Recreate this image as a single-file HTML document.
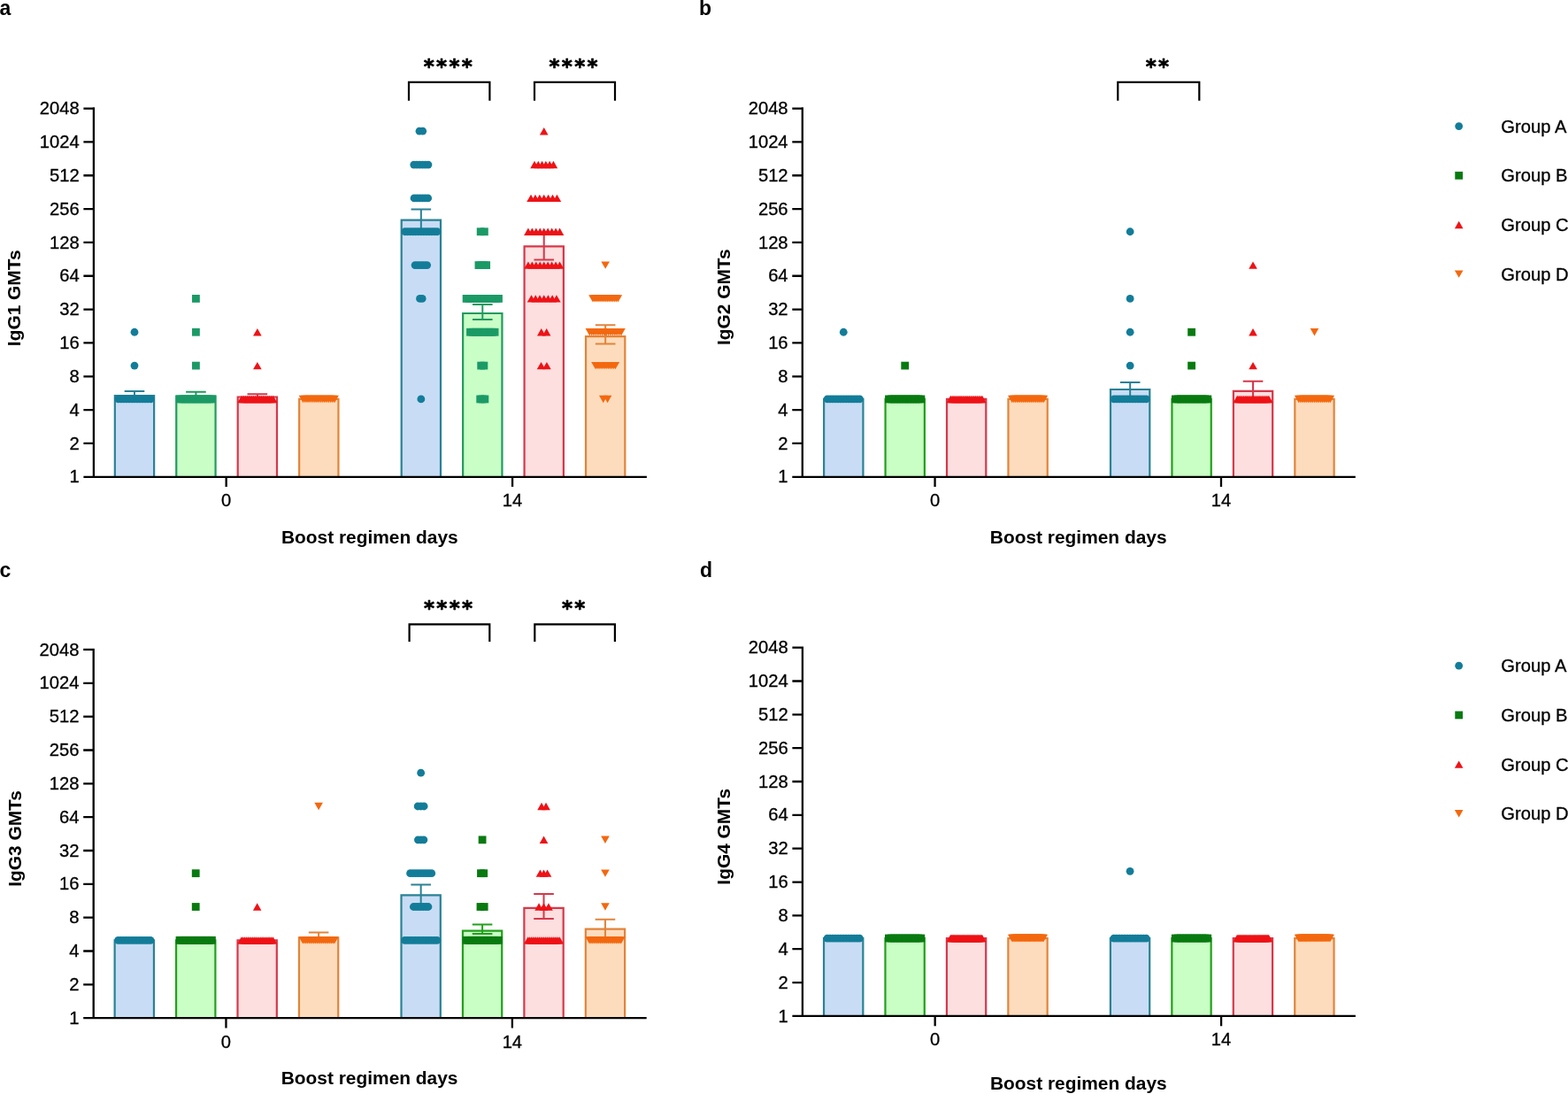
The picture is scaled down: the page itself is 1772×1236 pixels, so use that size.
<!DOCTYPE html>
<html><head><meta charset="utf-8"><title>IgG subclass GMTs</title>
<style>
html,body{margin:0;padding:0;background:#fff;width:1772px;height:1236px;overflow:hidden}
svg{display:block}
.t{font-family:"Liberation Sans", Arial, sans-serif;font-size:20.2px;fill:#000;stroke:#000;stroke-width:0.3px}
.tb{font-family:"Liberation Sans", Arial, sans-serif;font-size:20.9px;font-weight:bold;fill:#000}
.pl{font-family:"Liberation Sans", Arial, sans-serif;font-size:23px;font-weight:bold;fill:#000}
.st{font-family:"DejaVu Sans",sans-serif;font-size:23px;font-weight:bold;fill:#000;stroke:#000;stroke-width:0.7px;stroke-linejoin:round;letter-spacing:2.3px}
</style></head><body>
<svg width="1772" height="1236" viewBox="0 0 1772 1236">
<rect width="1772" height="1236" fill="#fff"/>
<path d="M129.83 538.80V447.00H174.13V538.80" fill="#c8ddf5" stroke="#2a8294" stroke-width="2.2"/>
<path d="M199.27 538.80V447.50H243.57V538.80" fill="#c9fec7" stroke="#229a5e" stroke-width="2.2"/>
<path d="M268.71 538.80V448.50H313.01V538.80" fill="#fddfe0" stroke="#d6384a" stroke-width="2.2"/>
<path d="M338.15 538.80V450.94H382.45V538.80" fill="#fddcbd" stroke="#e2843a" stroke-width="2.2"/>
<path d="M453.70 538.80V248.70H498.00V538.80" fill="#c8ddf5" stroke="#2a8294" stroke-width="2.2"/>
<path d="M523.14 538.80V354.00H567.44V538.80" fill="#c9fec7" stroke="#229a5e" stroke-width="2.2"/>
<path d="M592.58 538.80V278.40H636.88V538.80" fill="#fddfe0" stroke="#d6384a" stroke-width="2.2"/>
<path d="M662.02 538.80V380.20H706.32V538.80" fill="#fddcbd" stroke="#e2843a" stroke-width="2.2"/>
<path d="M151.98 441.90V452.00M140.68 441.90H163.28M140.68 452.00H163.28" fill="none" stroke="#2a8294" stroke-width="2"/>
<path d="M221.42 442.70V452.30M210.12 442.70H232.72M210.12 452.30H232.72" fill="none" stroke="#229a5e" stroke-width="2"/>
<path d="M290.86 445.20V451.80M279.56 445.20H302.16M279.56 451.80H302.16" fill="none" stroke="#d6384a" stroke-width="2"/>
<path d="M475.85 236.60V260.80M464.55 236.60H487.15M464.55 260.80H487.15" fill="none" stroke="#2a8294" stroke-width="2"/>
<path d="M545.29 344.00V361.00M533.99 344.00H556.59M533.99 361.00H556.59" fill="none" stroke="#229a5e" stroke-width="2"/>
<path d="M614.73 262.50V293.40M603.43 262.50H626.03M603.43 293.40H626.03" fill="none" stroke="#d6384a" stroke-width="2"/>
<path d="M684.17 367.30V388.60M672.87 367.30H695.47M672.87 388.60H695.47" fill="none" stroke="#e2843a" stroke-width="2"/>
<circle cx="151.98" cy="375.26" r="4.4" fill="#137d99"/>
<circle cx="151.98" cy="413.10" r="4.4" fill="#137d99"/>
<circle cx="133.78" cy="450.94" r="4.4" fill="#137d99"/>
<circle cx="136.81" cy="450.94" r="4.4" fill="#137d99"/>
<circle cx="139.85" cy="450.94" r="4.4" fill="#137d99"/>
<circle cx="142.88" cy="450.94" r="4.4" fill="#137d99"/>
<circle cx="145.91" cy="450.94" r="4.4" fill="#137d99"/>
<circle cx="148.95" cy="450.94" r="4.4" fill="#137d99"/>
<circle cx="151.98" cy="450.94" r="4.4" fill="#137d99"/>
<circle cx="155.01" cy="450.94" r="4.4" fill="#137d99"/>
<circle cx="158.05" cy="450.94" r="4.4" fill="#137d99"/>
<circle cx="161.08" cy="450.94" r="4.4" fill="#137d99"/>
<circle cx="164.11" cy="450.94" r="4.4" fill="#137d99"/>
<circle cx="167.15" cy="450.94" r="4.4" fill="#137d99"/>
<circle cx="170.18" cy="450.94" r="4.4" fill="#137d99"/>
<rect x="217.02" y="333.02" width="8.80" height="8.80" fill="#1b9a66"/>
<rect x="217.02" y="370.86" width="8.80" height="8.80" fill="#1b9a66"/>
<rect x="217.02" y="408.70" width="8.80" height="8.80" fill="#1b9a66"/>
<rect x="198.82" y="446.54" width="8.80" height="8.80" fill="#1b9a66"/>
<rect x="201.85" y="446.54" width="8.80" height="8.80" fill="#1b9a66"/>
<rect x="204.89" y="446.54" width="8.80" height="8.80" fill="#1b9a66"/>
<rect x="207.92" y="446.54" width="8.80" height="8.80" fill="#1b9a66"/>
<rect x="210.95" y="446.54" width="8.80" height="8.80" fill="#1b9a66"/>
<rect x="213.99" y="446.54" width="8.80" height="8.80" fill="#1b9a66"/>
<rect x="217.02" y="446.54" width="8.80" height="8.80" fill="#1b9a66"/>
<rect x="220.05" y="446.54" width="8.80" height="8.80" fill="#1b9a66"/>
<rect x="223.09" y="446.54" width="8.80" height="8.80" fill="#1b9a66"/>
<rect x="226.12" y="446.54" width="8.80" height="8.80" fill="#1b9a66"/>
<rect x="229.15" y="446.54" width="8.80" height="8.80" fill="#1b9a66"/>
<rect x="232.19" y="446.54" width="8.80" height="8.80" fill="#1b9a66"/>
<rect x="235.22" y="446.54" width="8.80" height="8.80" fill="#1b9a66"/>
<path d="M290.86 371.06L295.66 379.46L286.06 379.46Z" fill="#ee1216"/>
<path d="M290.86 408.90L295.66 417.30L286.06 417.30Z" fill="#ee1216"/>
<path d="M273.06 446.74L277.86 455.14L268.26 455.14Z" fill="#ee1216"/>
<path d="M275.29 446.74L280.09 455.14L270.49 455.14Z" fill="#ee1216"/>
<path d="M277.51 446.74L282.31 455.14L272.71 455.14Z" fill="#ee1216"/>
<path d="M279.74 446.74L284.54 455.14L274.94 455.14Z" fill="#ee1216"/>
<path d="M281.96 446.74L286.76 455.14L277.16 455.14Z" fill="#ee1216"/>
<path d="M284.19 446.74L288.99 455.14L279.38 455.14Z" fill="#ee1216"/>
<path d="M286.41 446.74L291.21 455.14L281.61 455.14Z" fill="#ee1216"/>
<path d="M288.63 446.74L293.44 455.14L283.83 455.14Z" fill="#ee1216"/>
<path d="M290.86 446.74L295.66 455.14L286.06 455.14Z" fill="#ee1216"/>
<path d="M293.08 446.74L297.88 455.14L288.28 455.14Z" fill="#ee1216"/>
<path d="M295.31 446.74L300.11 455.14L290.51 455.14Z" fill="#ee1216"/>
<path d="M297.54 446.74L302.34 455.14L292.74 455.14Z" fill="#ee1216"/>
<path d="M299.76 446.74L304.56 455.14L294.96 455.14Z" fill="#ee1216"/>
<path d="M301.99 446.74L306.79 455.14L297.19 455.14Z" fill="#ee1216"/>
<path d="M304.21 446.74L309.01 455.14L299.41 455.14Z" fill="#ee1216"/>
<path d="M306.44 446.74L311.24 455.14L301.63 455.14Z" fill="#ee1216"/>
<path d="M308.66 446.74L313.46 455.14L303.86 455.14Z" fill="#ee1216"/>
<path d="M337.70 446.74L347.30 446.74L342.50 455.14Z" fill="#f3680f"/>
<path d="M339.92 446.74L349.52 446.74L344.72 455.14Z" fill="#f3680f"/>
<path d="M342.15 446.74L351.75 446.74L346.95 455.14Z" fill="#f3680f"/>
<path d="M344.37 446.74L353.97 446.74L349.17 455.14Z" fill="#f3680f"/>
<path d="M346.60 446.74L356.20 446.74L351.40 455.14Z" fill="#f3680f"/>
<path d="M348.82 446.74L358.42 446.74L353.62 455.14Z" fill="#f3680f"/>
<path d="M351.05 446.74L360.65 446.74L355.85 455.14Z" fill="#f3680f"/>
<path d="M353.27 446.74L362.87 446.74L358.07 455.14Z" fill="#f3680f"/>
<path d="M355.50 446.74L365.10 446.74L360.30 455.14Z" fill="#f3680f"/>
<path d="M357.72 446.74L367.32 446.74L362.52 455.14Z" fill="#f3680f"/>
<path d="M359.95 446.74L369.55 446.74L364.75 455.14Z" fill="#f3680f"/>
<path d="M362.17 446.74L371.77 446.74L366.97 455.14Z" fill="#f3680f"/>
<path d="M364.40 446.74L374.00 446.74L369.20 455.14Z" fill="#f3680f"/>
<path d="M366.62 446.74L376.22 446.74L371.42 455.14Z" fill="#f3680f"/>
<path d="M368.85 446.74L378.45 446.74L373.65 455.14Z" fill="#f3680f"/>
<path d="M371.07 446.74L380.67 446.74L375.87 455.14Z" fill="#f3680f"/>
<path d="M373.30 446.74L382.90 446.74L378.10 455.14Z" fill="#f3680f"/>
<circle cx="474.00" cy="148.22" r="4.4" fill="#137d99"/>
<circle cx="477.70" cy="148.22" r="4.4" fill="#137d99"/>
<circle cx="467.75" cy="186.06" r="4.4" fill="#137d99"/>
<circle cx="470.99" cy="186.06" r="4.4" fill="#137d99"/>
<circle cx="474.23" cy="186.06" r="4.4" fill="#137d99"/>
<circle cx="477.47" cy="186.06" r="4.4" fill="#137d99"/>
<circle cx="480.71" cy="186.06" r="4.4" fill="#137d99"/>
<circle cx="483.95" cy="186.06" r="4.4" fill="#137d99"/>
<circle cx="468.05" cy="223.90" r="4.4" fill="#137d99"/>
<circle cx="471.17" cy="223.90" r="4.4" fill="#137d99"/>
<circle cx="474.29" cy="223.90" r="4.4" fill="#137d99"/>
<circle cx="477.41" cy="223.90" r="4.4" fill="#137d99"/>
<circle cx="480.53" cy="223.90" r="4.4" fill="#137d99"/>
<circle cx="483.65" cy="223.90" r="4.4" fill="#137d99"/>
<circle cx="457.65" cy="261.74" r="4.4" fill="#137d99"/>
<circle cx="460.68" cy="261.74" r="4.4" fill="#137d99"/>
<circle cx="463.72" cy="261.74" r="4.4" fill="#137d99"/>
<circle cx="466.75" cy="261.74" r="4.4" fill="#137d99"/>
<circle cx="469.78" cy="261.74" r="4.4" fill="#137d99"/>
<circle cx="472.82" cy="261.74" r="4.4" fill="#137d99"/>
<circle cx="475.85" cy="261.74" r="4.4" fill="#137d99"/>
<circle cx="478.88" cy="261.74" r="4.4" fill="#137d99"/>
<circle cx="481.92" cy="261.74" r="4.4" fill="#137d99"/>
<circle cx="484.95" cy="261.74" r="4.4" fill="#137d99"/>
<circle cx="487.98" cy="261.74" r="4.4" fill="#137d99"/>
<circle cx="491.02" cy="261.74" r="4.4" fill="#137d99"/>
<circle cx="494.05" cy="261.74" r="4.4" fill="#137d99"/>
<circle cx="469.05" cy="299.58" r="4.4" fill="#137d99"/>
<circle cx="471.77" cy="299.58" r="4.4" fill="#137d99"/>
<circle cx="474.49" cy="299.58" r="4.4" fill="#137d99"/>
<circle cx="477.21" cy="299.58" r="4.4" fill="#137d99"/>
<circle cx="479.93" cy="299.58" r="4.4" fill="#137d99"/>
<circle cx="482.65" cy="299.58" r="4.4" fill="#137d99"/>
<circle cx="474.50" cy="337.42" r="4.4" fill="#137d99"/>
<circle cx="477.20" cy="337.42" r="4.4" fill="#137d99"/>
<circle cx="475.85" cy="450.94" r="4.4" fill="#137d99"/>
<rect x="538.79" y="257.34" width="8.80" height="8.80" fill="#1b9a66"/>
<rect x="542.99" y="257.34" width="8.80" height="8.80" fill="#1b9a66"/>
<rect x="536.54" y="295.18" width="8.80" height="8.80" fill="#1b9a66"/>
<rect x="539.44" y="295.18" width="8.80" height="8.80" fill="#1b9a66"/>
<rect x="542.34" y="295.18" width="8.80" height="8.80" fill="#1b9a66"/>
<rect x="545.24" y="295.18" width="8.80" height="8.80" fill="#1b9a66"/>
<rect x="522.69" y="333.02" width="8.80" height="8.80" fill="#1b9a66"/>
<rect x="525.72" y="333.02" width="8.80" height="8.80" fill="#1b9a66"/>
<rect x="528.76" y="333.02" width="8.80" height="8.80" fill="#1b9a66"/>
<rect x="531.79" y="333.02" width="8.80" height="8.80" fill="#1b9a66"/>
<rect x="534.82" y="333.02" width="8.80" height="8.80" fill="#1b9a66"/>
<rect x="537.86" y="333.02" width="8.80" height="8.80" fill="#1b9a66"/>
<rect x="540.89" y="333.02" width="8.80" height="8.80" fill="#1b9a66"/>
<rect x="543.92" y="333.02" width="8.80" height="8.80" fill="#1b9a66"/>
<rect x="546.96" y="333.02" width="8.80" height="8.80" fill="#1b9a66"/>
<rect x="549.99" y="333.02" width="8.80" height="8.80" fill="#1b9a66"/>
<rect x="553.02" y="333.02" width="8.80" height="8.80" fill="#1b9a66"/>
<rect x="556.06" y="333.02" width="8.80" height="8.80" fill="#1b9a66"/>
<rect x="559.09" y="333.02" width="8.80" height="8.80" fill="#1b9a66"/>
<rect x="527.09" y="370.86" width="8.80" height="8.80" fill="#1b9a66"/>
<rect x="530.16" y="370.86" width="8.80" height="8.80" fill="#1b9a66"/>
<rect x="533.22" y="370.86" width="8.80" height="8.80" fill="#1b9a66"/>
<rect x="536.29" y="370.86" width="8.80" height="8.80" fill="#1b9a66"/>
<rect x="539.36" y="370.86" width="8.80" height="8.80" fill="#1b9a66"/>
<rect x="542.42" y="370.86" width="8.80" height="8.80" fill="#1b9a66"/>
<rect x="545.49" y="370.86" width="8.80" height="8.80" fill="#1b9a66"/>
<rect x="548.56" y="370.86" width="8.80" height="8.80" fill="#1b9a66"/>
<rect x="551.62" y="370.86" width="8.80" height="8.80" fill="#1b9a66"/>
<rect x="554.69" y="370.86" width="8.80" height="8.80" fill="#1b9a66"/>
<rect x="539.29" y="408.70" width="8.80" height="8.80" fill="#1b9a66"/>
<rect x="542.49" y="408.70" width="8.80" height="8.80" fill="#1b9a66"/>
<rect x="538.29" y="446.54" width="8.80" height="8.80" fill="#1b9a66"/>
<rect x="540.89" y="446.54" width="8.80" height="8.80" fill="#1b9a66"/>
<rect x="543.49" y="446.54" width="8.80" height="8.80" fill="#1b9a66"/>
<path d="M614.73 144.02L619.53 152.42L609.93 152.42Z" fill="#ee1216"/>
<path d="M604.03 181.86L608.83 190.26L599.23 190.26Z" fill="#ee1216"/>
<path d="M608.31 181.86L613.11 190.26L603.51 190.26Z" fill="#ee1216"/>
<path d="M612.59 181.86L617.39 190.26L607.79 190.26Z" fill="#ee1216"/>
<path d="M616.87 181.86L621.67 190.26L612.07 190.26Z" fill="#ee1216"/>
<path d="M621.15 181.86L625.95 190.26L616.35 190.26Z" fill="#ee1216"/>
<path d="M625.43 181.86L630.23 190.26L620.63 190.26Z" fill="#ee1216"/>
<path d="M600.03 219.70L604.83 228.10L595.23 228.10Z" fill="#ee1216"/>
<path d="M604.93 219.70L609.73 228.10L600.13 228.10Z" fill="#ee1216"/>
<path d="M609.83 219.70L614.63 228.10L605.03 228.10Z" fill="#ee1216"/>
<path d="M614.73 219.70L619.53 228.10L609.93 228.10Z" fill="#ee1216"/>
<path d="M619.63 219.70L624.43 228.10L614.83 228.10Z" fill="#ee1216"/>
<path d="M624.53 219.70L629.33 228.10L619.73 228.10Z" fill="#ee1216"/>
<path d="M629.43 219.70L634.23 228.10L624.63 228.10Z" fill="#ee1216"/>
<path d="M596.93 257.54L601.73 265.94L592.13 265.94Z" fill="#ee1216"/>
<path d="M601.38 257.54L606.18 265.94L596.58 265.94Z" fill="#ee1216"/>
<path d="M605.83 257.54L610.63 265.94L601.03 265.94Z" fill="#ee1216"/>
<path d="M610.28 257.54L615.08 265.94L605.48 265.94Z" fill="#ee1216"/>
<path d="M614.73 257.54L619.53 265.94L609.93 265.94Z" fill="#ee1216"/>
<path d="M619.18 257.54L623.98 265.94L614.38 265.94Z" fill="#ee1216"/>
<path d="M623.63 257.54L628.43 265.94L618.83 265.94Z" fill="#ee1216"/>
<path d="M628.08 257.54L632.88 265.94L623.28 265.94Z" fill="#ee1216"/>
<path d="M632.53 257.54L637.33 265.94L627.73 265.94Z" fill="#ee1216"/>
<path d="M596.93 295.38L601.73 303.78L592.13 303.78Z" fill="#ee1216"/>
<path d="M601.38 295.38L606.18 303.78L596.58 303.78Z" fill="#ee1216"/>
<path d="M605.83 295.38L610.63 303.78L601.03 303.78Z" fill="#ee1216"/>
<path d="M610.28 295.38L615.08 303.78L605.48 303.78Z" fill="#ee1216"/>
<path d="M614.73 295.38L619.53 303.78L609.93 303.78Z" fill="#ee1216"/>
<path d="M619.18 295.38L623.98 303.78L614.38 303.78Z" fill="#ee1216"/>
<path d="M623.63 295.38L628.43 303.78L618.83 303.78Z" fill="#ee1216"/>
<path d="M628.08 295.38L632.88 303.78L623.28 303.78Z" fill="#ee1216"/>
<path d="M632.53 295.38L637.33 303.78L627.73 303.78Z" fill="#ee1216"/>
<path d="M600.53 333.22L605.33 341.62L595.73 341.62Z" fill="#ee1216"/>
<path d="M605.26 333.22L610.06 341.62L600.46 341.62Z" fill="#ee1216"/>
<path d="M610.00 333.22L614.80 341.62L605.20 341.62Z" fill="#ee1216"/>
<path d="M614.73 333.22L619.53 341.62L609.93 341.62Z" fill="#ee1216"/>
<path d="M619.46 333.22L624.26 341.62L614.66 341.62Z" fill="#ee1216"/>
<path d="M624.20 333.22L629.00 341.62L619.40 341.62Z" fill="#ee1216"/>
<path d="M628.93 333.22L633.73 341.62L624.13 341.62Z" fill="#ee1216"/>
<path d="M611.78 371.06L616.58 379.46L606.98 379.46Z" fill="#ee1216"/>
<path d="M617.68 371.06L622.48 379.46L612.88 379.46Z" fill="#ee1216"/>
<path d="M611.53 408.90L616.33 417.30L606.73 417.30Z" fill="#ee1216"/>
<path d="M617.93 408.90L622.73 417.30L613.13 417.30Z" fill="#ee1216"/>
<path d="M679.37 295.38L688.97 295.38L684.17 303.78Z" fill="#f3680f"/>
<path d="M665.17 333.22L674.77 333.22L669.97 341.62Z" fill="#f3680f"/>
<path d="M667.20 333.22L676.80 333.22L672.00 341.62Z" fill="#f3680f"/>
<path d="M669.23 333.22L678.83 333.22L674.03 341.62Z" fill="#f3680f"/>
<path d="M671.26 333.22L680.86 333.22L676.06 341.62Z" fill="#f3680f"/>
<path d="M673.28 333.22L682.88 333.22L678.08 341.62Z" fill="#f3680f"/>
<path d="M675.31 333.22L684.91 333.22L680.11 341.62Z" fill="#f3680f"/>
<path d="M677.34 333.22L686.94 333.22L682.14 341.62Z" fill="#f3680f"/>
<path d="M679.37 333.22L688.97 333.22L684.17 341.62Z" fill="#f3680f"/>
<path d="M681.40 333.22L691.00 333.22L686.20 341.62Z" fill="#f3680f"/>
<path d="M683.43 333.22L693.03 333.22L688.23 341.62Z" fill="#f3680f"/>
<path d="M685.46 333.22L695.06 333.22L690.26 341.62Z" fill="#f3680f"/>
<path d="M687.48 333.22L697.08 333.22L692.28 341.62Z" fill="#f3680f"/>
<path d="M689.51 333.22L699.11 333.22L694.31 341.62Z" fill="#f3680f"/>
<path d="M691.54 333.22L701.14 333.22L696.34 341.62Z" fill="#f3680f"/>
<path d="M693.57 333.22L703.17 333.22L698.37 341.62Z" fill="#f3680f"/>
<path d="M661.57 371.06L671.17 371.06L666.37 379.46Z" fill="#f3680f"/>
<path d="M663.94 371.06L673.54 371.06L668.74 379.46Z" fill="#f3680f"/>
<path d="M666.32 371.06L675.92 371.06L671.12 379.46Z" fill="#f3680f"/>
<path d="M668.69 371.06L678.29 371.06L673.49 379.46Z" fill="#f3680f"/>
<path d="M671.06 371.06L680.66 371.06L675.86 379.46Z" fill="#f3680f"/>
<path d="M673.44 371.06L683.04 371.06L678.24 379.46Z" fill="#f3680f"/>
<path d="M675.81 371.06L685.41 371.06L680.61 379.46Z" fill="#f3680f"/>
<path d="M678.18 371.06L687.78 371.06L682.98 379.46Z" fill="#f3680f"/>
<path d="M680.56 371.06L690.16 371.06L685.36 379.46Z" fill="#f3680f"/>
<path d="M682.93 371.06L692.53 371.06L687.73 379.46Z" fill="#f3680f"/>
<path d="M685.30 371.06L694.90 371.06L690.10 379.46Z" fill="#f3680f"/>
<path d="M687.68 371.06L697.28 371.06L692.48 379.46Z" fill="#f3680f"/>
<path d="M690.05 371.06L699.65 371.06L694.85 379.46Z" fill="#f3680f"/>
<path d="M692.42 371.06L702.02 371.06L697.22 379.46Z" fill="#f3680f"/>
<path d="M694.80 371.06L704.40 371.06L699.60 379.46Z" fill="#f3680f"/>
<path d="M697.17 371.06L706.77 371.06L701.97 379.46Z" fill="#f3680f"/>
<path d="M668.17 408.90L677.77 408.90L672.97 417.30Z" fill="#f3680f"/>
<path d="M670.21 408.90L679.81 408.90L675.01 417.30Z" fill="#f3680f"/>
<path d="M672.24 408.90L681.84 408.90L677.04 417.30Z" fill="#f3680f"/>
<path d="M674.28 408.90L683.88 408.90L679.08 417.30Z" fill="#f3680f"/>
<path d="M676.32 408.90L685.92 408.90L681.12 417.30Z" fill="#f3680f"/>
<path d="M678.35 408.90L687.95 408.90L683.15 417.30Z" fill="#f3680f"/>
<path d="M680.39 408.90L689.99 408.90L685.19 417.30Z" fill="#f3680f"/>
<path d="M682.42 408.90L692.02 408.90L687.22 417.30Z" fill="#f3680f"/>
<path d="M684.46 408.90L694.06 408.90L689.26 417.30Z" fill="#f3680f"/>
<path d="M686.50 408.90L696.10 408.90L691.30 417.30Z" fill="#f3680f"/>
<path d="M688.53 408.90L698.13 408.90L693.33 417.30Z" fill="#f3680f"/>
<path d="M690.57 408.90L700.17 408.90L695.37 417.30Z" fill="#f3680f"/>
<path d="M676.97 446.74L686.57 446.74L681.77 455.14Z" fill="#f3680f"/>
<path d="M681.77 446.74L691.37 446.74L686.57 455.14Z" fill="#f3680f"/>
<path d="M105.90 121.36V538.80H730.90M94.40 538.80H105.90M94.40 500.96H105.90M94.40 463.12H105.90M94.40 425.28H105.90M94.40 387.44H105.90M94.40 349.60H105.90M94.40 311.76H105.90M94.40 273.92H105.90M94.40 236.08H105.90M94.40 198.24H105.90M94.40 160.40H105.90M94.40 122.56H105.90M255.66 538.80V550.10M579.08 538.80V550.10" fill="none" stroke="#000" stroke-width="2.3"/>
<text x="89.70" y="545.40" text-anchor="end" class="t">1</text>
<text x="89.70" y="507.56" text-anchor="end" class="t">2</text>
<text x="89.70" y="469.72" text-anchor="end" class="t">4</text>
<text x="89.70" y="431.88" text-anchor="end" class="t">8</text>
<text x="89.70" y="394.04" text-anchor="end" class="t">16</text>
<text x="89.70" y="356.20" text-anchor="end" class="t">32</text>
<text x="89.70" y="318.36" text-anchor="end" class="t">64</text>
<text x="89.70" y="280.52" text-anchor="end" class="t">128</text>
<text x="89.70" y="242.68" text-anchor="end" class="t">256</text>
<text x="89.70" y="204.84" text-anchor="end" class="t">512</text>
<text x="89.70" y="167.00" text-anchor="end" class="t">1024</text>
<text x="89.70" y="129.16" text-anchor="end" class="t">2048</text>
<text x="255.66" y="572.20" text-anchor="middle" class="t">0</text>
<text x="579.08" y="572.20" text-anchor="middle" class="t">14</text>
<text x="417.80" y="613.70" text-anchor="middle" class="tb">Boost regimen days</text>
<text transform="translate(23.30 336.80) rotate(-90)" x="0" y="0" text-anchor="middle" class="tb">IgG1 GMTs</text>
<text x="-0.5" y="17.0" class="pl">a</text>
<path d="M462.00 113.70V92.90H553.40V113.70" fill="none" stroke="#000" stroke-width="2.2"/>
<text x="507.40" y="83.30" text-anchor="middle" class="st">****</text>
<path d="M604.00 113.70V92.90H695.00V113.70" fill="none" stroke="#000" stroke-width="2.2"/>
<text x="649.20" y="83.30" text-anchor="middle" class="st">****</text>
<path d="M931.13 538.80V450.94H975.43V538.80" fill="#c8ddf5" stroke="#2a8294" stroke-width="2.2"/>
<path d="M1000.57 538.80V450.94H1044.87V538.80" fill="#c9fec5" stroke="#22a01c" stroke-width="2.2"/>
<path d="M1070.01 538.80V450.94H1114.31V538.80" fill="#fddfe0" stroke="#d6384a" stroke-width="2.2"/>
<path d="M1139.45 538.80V450.94H1183.75V538.80" fill="#fddcbd" stroke="#e2843a" stroke-width="2.2"/>
<path d="M1255.00 538.80V440.00H1299.30V538.80" fill="#c8ddf5" stroke="#2a8294" stroke-width="2.2"/>
<path d="M1324.44 538.80V450.94H1368.74V538.80" fill="#c9fec5" stroke="#22a01c" stroke-width="2.2"/>
<path d="M1393.88 538.80V441.80H1438.18V538.80" fill="#fddfe0" stroke="#d6384a" stroke-width="2.2"/>
<path d="M1463.32 538.80V450.94H1507.62V538.80" fill="#fddcbd" stroke="#e2843a" stroke-width="2.2"/>
<path d="M1277.15 431.90V448.00M1265.85 431.90H1288.45M1265.85 448.00H1288.45" fill="none" stroke="#2a8294" stroke-width="2"/>
<path d="M1416.03 430.70V452.00M1404.73 430.70H1427.33M1404.73 452.00H1427.33" fill="none" stroke="#d6384a" stroke-width="2"/>
<circle cx="953.28" cy="375.26" r="4.4" fill="#137d99"/>
<circle cx="935.08" cy="450.94" r="4.4" fill="#137d99"/>
<circle cx="938.11" cy="450.94" r="4.4" fill="#137d99"/>
<circle cx="941.15" cy="450.94" r="4.4" fill="#137d99"/>
<circle cx="944.18" cy="450.94" r="4.4" fill="#137d99"/>
<circle cx="947.21" cy="450.94" r="4.4" fill="#137d99"/>
<circle cx="950.25" cy="450.94" r="4.4" fill="#137d99"/>
<circle cx="953.28" cy="450.94" r="4.4" fill="#137d99"/>
<circle cx="956.31" cy="450.94" r="4.4" fill="#137d99"/>
<circle cx="959.35" cy="450.94" r="4.4" fill="#137d99"/>
<circle cx="962.38" cy="450.94" r="4.4" fill="#137d99"/>
<circle cx="965.41" cy="450.94" r="4.4" fill="#137d99"/>
<circle cx="968.45" cy="450.94" r="4.4" fill="#137d99"/>
<circle cx="971.48" cy="450.94" r="4.4" fill="#137d99"/>
<rect x="1018.32" y="408.70" width="8.80" height="8.80" fill="#087a10"/>
<rect x="1000.12" y="446.54" width="8.80" height="8.80" fill="#087a10"/>
<rect x="1003.15" y="446.54" width="8.80" height="8.80" fill="#087a10"/>
<rect x="1006.19" y="446.54" width="8.80" height="8.80" fill="#087a10"/>
<rect x="1009.22" y="446.54" width="8.80" height="8.80" fill="#087a10"/>
<rect x="1012.25" y="446.54" width="8.80" height="8.80" fill="#087a10"/>
<rect x="1015.29" y="446.54" width="8.80" height="8.80" fill="#087a10"/>
<rect x="1018.32" y="446.54" width="8.80" height="8.80" fill="#087a10"/>
<rect x="1021.35" y="446.54" width="8.80" height="8.80" fill="#087a10"/>
<rect x="1024.39" y="446.54" width="8.80" height="8.80" fill="#087a10"/>
<rect x="1027.42" y="446.54" width="8.80" height="8.80" fill="#087a10"/>
<rect x="1030.45" y="446.54" width="8.80" height="8.80" fill="#087a10"/>
<rect x="1033.49" y="446.54" width="8.80" height="8.80" fill="#087a10"/>
<rect x="1036.52" y="446.54" width="8.80" height="8.80" fill="#087a10"/>
<path d="M1074.36 446.74L1079.16 455.14L1069.56 455.14Z" fill="#ee1216"/>
<path d="M1076.14 446.74L1080.94 455.14L1071.34 455.14Z" fill="#ee1216"/>
<path d="M1077.92 446.74L1082.72 455.14L1073.12 455.14Z" fill="#ee1216"/>
<path d="M1079.70 446.74L1084.50 455.14L1074.90 455.14Z" fill="#ee1216"/>
<path d="M1081.48 446.74L1086.28 455.14L1076.68 455.14Z" fill="#ee1216"/>
<path d="M1083.26 446.74L1088.06 455.14L1078.46 455.14Z" fill="#ee1216"/>
<path d="M1085.04 446.74L1089.84 455.14L1080.24 455.14Z" fill="#ee1216"/>
<path d="M1086.82 446.74L1091.62 455.14L1082.02 455.14Z" fill="#ee1216"/>
<path d="M1088.60 446.74L1093.40 455.14L1083.80 455.14Z" fill="#ee1216"/>
<path d="M1090.38 446.74L1095.18 455.14L1085.58 455.14Z" fill="#ee1216"/>
<path d="M1092.16 446.74L1096.96 455.14L1087.36 455.14Z" fill="#ee1216"/>
<path d="M1093.94 446.74L1098.74 455.14L1089.14 455.14Z" fill="#ee1216"/>
<path d="M1095.72 446.74L1100.52 455.14L1090.92 455.14Z" fill="#ee1216"/>
<path d="M1097.50 446.74L1102.30 455.14L1092.70 455.14Z" fill="#ee1216"/>
<path d="M1099.28 446.74L1104.08 455.14L1094.48 455.14Z" fill="#ee1216"/>
<path d="M1101.06 446.74L1105.86 455.14L1096.26 455.14Z" fill="#ee1216"/>
<path d="M1102.84 446.74L1107.64 455.14L1098.04 455.14Z" fill="#ee1216"/>
<path d="M1104.62 446.74L1109.42 455.14L1099.82 455.14Z" fill="#ee1216"/>
<path d="M1106.40 446.74L1111.20 455.14L1101.60 455.14Z" fill="#ee1216"/>
<path d="M1108.18 446.74L1112.98 455.14L1103.38 455.14Z" fill="#ee1216"/>
<path d="M1109.96 446.74L1114.76 455.14L1105.16 455.14Z" fill="#ee1216"/>
<path d="M1139.00 446.74L1148.60 446.74L1143.80 455.14Z" fill="#f3680f"/>
<path d="M1140.78 446.74L1150.38 446.74L1145.58 455.14Z" fill="#f3680f"/>
<path d="M1142.56 446.74L1152.16 446.74L1147.36 455.14Z" fill="#f3680f"/>
<path d="M1144.34 446.74L1153.94 446.74L1149.14 455.14Z" fill="#f3680f"/>
<path d="M1146.12 446.74L1155.72 446.74L1150.92 455.14Z" fill="#f3680f"/>
<path d="M1147.90 446.74L1157.50 446.74L1152.70 455.14Z" fill="#f3680f"/>
<path d="M1149.68 446.74L1159.28 446.74L1154.48 455.14Z" fill="#f3680f"/>
<path d="M1151.46 446.74L1161.06 446.74L1156.26 455.14Z" fill="#f3680f"/>
<path d="M1153.24 446.74L1162.84 446.74L1158.04 455.14Z" fill="#f3680f"/>
<path d="M1155.02 446.74L1164.62 446.74L1159.82 455.14Z" fill="#f3680f"/>
<path d="M1156.80 446.74L1166.40 446.74L1161.60 455.14Z" fill="#f3680f"/>
<path d="M1158.58 446.74L1168.18 446.74L1163.38 455.14Z" fill="#f3680f"/>
<path d="M1160.36 446.74L1169.96 446.74L1165.16 455.14Z" fill="#f3680f"/>
<path d="M1162.14 446.74L1171.74 446.74L1166.94 455.14Z" fill="#f3680f"/>
<path d="M1163.92 446.74L1173.52 446.74L1168.72 455.14Z" fill="#f3680f"/>
<path d="M1165.70 446.74L1175.30 446.74L1170.50 455.14Z" fill="#f3680f"/>
<path d="M1167.48 446.74L1177.08 446.74L1172.28 455.14Z" fill="#f3680f"/>
<path d="M1169.26 446.74L1178.86 446.74L1174.06 455.14Z" fill="#f3680f"/>
<path d="M1171.04 446.74L1180.64 446.74L1175.84 455.14Z" fill="#f3680f"/>
<path d="M1172.82 446.74L1182.42 446.74L1177.62 455.14Z" fill="#f3680f"/>
<path d="M1174.60 446.74L1184.20 446.74L1179.40 455.14Z" fill="#f3680f"/>
<circle cx="1277.15" cy="261.74" r="4.4" fill="#137d99"/>
<circle cx="1277.15" cy="337.42" r="4.4" fill="#137d99"/>
<circle cx="1277.15" cy="375.26" r="4.4" fill="#137d99"/>
<circle cx="1277.15" cy="413.10" r="4.4" fill="#137d99"/>
<circle cx="1258.95" cy="450.94" r="4.4" fill="#137d99"/>
<circle cx="1261.98" cy="450.94" r="4.4" fill="#137d99"/>
<circle cx="1265.02" cy="450.94" r="4.4" fill="#137d99"/>
<circle cx="1268.05" cy="450.94" r="4.4" fill="#137d99"/>
<circle cx="1271.08" cy="450.94" r="4.4" fill="#137d99"/>
<circle cx="1274.12" cy="450.94" r="4.4" fill="#137d99"/>
<circle cx="1277.15" cy="450.94" r="4.4" fill="#137d99"/>
<circle cx="1280.18" cy="450.94" r="4.4" fill="#137d99"/>
<circle cx="1283.22" cy="450.94" r="4.4" fill="#137d99"/>
<circle cx="1286.25" cy="450.94" r="4.4" fill="#137d99"/>
<circle cx="1289.28" cy="450.94" r="4.4" fill="#137d99"/>
<circle cx="1292.32" cy="450.94" r="4.4" fill="#137d99"/>
<circle cx="1295.35" cy="450.94" r="4.4" fill="#137d99"/>
<rect x="1342.19" y="370.86" width="8.80" height="8.80" fill="#087a10"/>
<rect x="1342.19" y="408.70" width="8.80" height="8.80" fill="#087a10"/>
<rect x="1323.99" y="446.54" width="8.80" height="8.80" fill="#087a10"/>
<rect x="1327.02" y="446.54" width="8.80" height="8.80" fill="#087a10"/>
<rect x="1330.06" y="446.54" width="8.80" height="8.80" fill="#087a10"/>
<rect x="1333.09" y="446.54" width="8.80" height="8.80" fill="#087a10"/>
<rect x="1336.12" y="446.54" width="8.80" height="8.80" fill="#087a10"/>
<rect x="1339.16" y="446.54" width="8.80" height="8.80" fill="#087a10"/>
<rect x="1342.19" y="446.54" width="8.80" height="8.80" fill="#087a10"/>
<rect x="1345.22" y="446.54" width="8.80" height="8.80" fill="#087a10"/>
<rect x="1348.26" y="446.54" width="8.80" height="8.80" fill="#087a10"/>
<rect x="1351.29" y="446.54" width="8.80" height="8.80" fill="#087a10"/>
<rect x="1354.32" y="446.54" width="8.80" height="8.80" fill="#087a10"/>
<rect x="1357.36" y="446.54" width="8.80" height="8.80" fill="#087a10"/>
<rect x="1360.39" y="446.54" width="8.80" height="8.80" fill="#087a10"/>
<path d="M1416.03 295.38L1420.83 303.78L1411.23 303.78Z" fill="#ee1216"/>
<path d="M1416.03 371.06L1420.83 379.46L1411.23 379.46Z" fill="#ee1216"/>
<path d="M1416.03 408.90L1420.83 417.30L1411.23 417.30Z" fill="#ee1216"/>
<path d="M1398.23 446.74L1403.03 455.14L1393.43 455.14Z" fill="#ee1216"/>
<path d="M1400.01 446.74L1404.81 455.14L1395.21 455.14Z" fill="#ee1216"/>
<path d="M1401.79 446.74L1406.59 455.14L1396.99 455.14Z" fill="#ee1216"/>
<path d="M1403.57 446.74L1408.37 455.14L1398.77 455.14Z" fill="#ee1216"/>
<path d="M1405.35 446.74L1410.15 455.14L1400.55 455.14Z" fill="#ee1216"/>
<path d="M1407.13 446.74L1411.93 455.14L1402.33 455.14Z" fill="#ee1216"/>
<path d="M1408.91 446.74L1413.71 455.14L1404.11 455.14Z" fill="#ee1216"/>
<path d="M1410.69 446.74L1415.49 455.14L1405.89 455.14Z" fill="#ee1216"/>
<path d="M1412.47 446.74L1417.27 455.14L1407.67 455.14Z" fill="#ee1216"/>
<path d="M1414.25 446.74L1419.05 455.14L1409.45 455.14Z" fill="#ee1216"/>
<path d="M1416.03 446.74L1420.83 455.14L1411.23 455.14Z" fill="#ee1216"/>
<path d="M1417.81 446.74L1422.61 455.14L1413.01 455.14Z" fill="#ee1216"/>
<path d="M1419.59 446.74L1424.39 455.14L1414.79 455.14Z" fill="#ee1216"/>
<path d="M1421.37 446.74L1426.17 455.14L1416.57 455.14Z" fill="#ee1216"/>
<path d="M1423.15 446.74L1427.95 455.14L1418.35 455.14Z" fill="#ee1216"/>
<path d="M1424.93 446.74L1429.73 455.14L1420.13 455.14Z" fill="#ee1216"/>
<path d="M1426.71 446.74L1431.51 455.14L1421.91 455.14Z" fill="#ee1216"/>
<path d="M1428.49 446.74L1433.29 455.14L1423.69 455.14Z" fill="#ee1216"/>
<path d="M1430.27 446.74L1435.07 455.14L1425.47 455.14Z" fill="#ee1216"/>
<path d="M1432.05 446.74L1436.85 455.14L1427.25 455.14Z" fill="#ee1216"/>
<path d="M1433.83 446.74L1438.63 455.14L1429.03 455.14Z" fill="#ee1216"/>
<path d="M1480.67 371.06L1490.27 371.06L1485.47 379.46Z" fill="#f3680f"/>
<path d="M1462.87 446.74L1472.47 446.74L1467.67 455.14Z" fill="#f3680f"/>
<path d="M1464.65 446.74L1474.25 446.74L1469.45 455.14Z" fill="#f3680f"/>
<path d="M1466.43 446.74L1476.03 446.74L1471.23 455.14Z" fill="#f3680f"/>
<path d="M1468.21 446.74L1477.81 446.74L1473.01 455.14Z" fill="#f3680f"/>
<path d="M1469.99 446.74L1479.59 446.74L1474.79 455.14Z" fill="#f3680f"/>
<path d="M1471.77 446.74L1481.37 446.74L1476.57 455.14Z" fill="#f3680f"/>
<path d="M1473.55 446.74L1483.15 446.74L1478.35 455.14Z" fill="#f3680f"/>
<path d="M1475.33 446.74L1484.93 446.74L1480.13 455.14Z" fill="#f3680f"/>
<path d="M1477.11 446.74L1486.71 446.74L1481.91 455.14Z" fill="#f3680f"/>
<path d="M1478.89 446.74L1488.49 446.74L1483.69 455.14Z" fill="#f3680f"/>
<path d="M1480.67 446.74L1490.27 446.74L1485.47 455.14Z" fill="#f3680f"/>
<path d="M1482.45 446.74L1492.05 446.74L1487.25 455.14Z" fill="#f3680f"/>
<path d="M1484.23 446.74L1493.83 446.74L1489.03 455.14Z" fill="#f3680f"/>
<path d="M1486.01 446.74L1495.61 446.74L1490.81 455.14Z" fill="#f3680f"/>
<path d="M1487.79 446.74L1497.39 446.74L1492.59 455.14Z" fill="#f3680f"/>
<path d="M1489.57 446.74L1499.17 446.74L1494.37 455.14Z" fill="#f3680f"/>
<path d="M1491.35 446.74L1500.95 446.74L1496.15 455.14Z" fill="#f3680f"/>
<path d="M1493.13 446.74L1502.73 446.74L1497.93 455.14Z" fill="#f3680f"/>
<path d="M1494.91 446.74L1504.51 446.74L1499.71 455.14Z" fill="#f3680f"/>
<path d="M1496.69 446.74L1506.29 446.74L1501.49 455.14Z" fill="#f3680f"/>
<path d="M1498.47 446.74L1508.07 446.74L1503.27 455.14Z" fill="#f3680f"/>
<path d="M906.80 121.36V538.80H1531.80M895.30 538.80H906.80M895.30 500.96H906.80M895.30 463.12H906.80M895.30 425.28H906.80M895.30 387.44H906.80M895.30 349.60H906.80M895.30 311.76H906.80M895.30 273.92H906.80M895.30 236.08H906.80M895.30 198.24H906.80M895.30 160.40H906.80M895.30 122.56H906.80M1056.56 538.80V550.10M1379.98 538.80V550.10" fill="none" stroke="#000" stroke-width="2.3"/>
<text x="890.60" y="545.40" text-anchor="end" class="t">1</text>
<text x="890.60" y="507.56" text-anchor="end" class="t">2</text>
<text x="890.60" y="469.72" text-anchor="end" class="t">4</text>
<text x="890.60" y="431.88" text-anchor="end" class="t">8</text>
<text x="890.60" y="394.04" text-anchor="end" class="t">16</text>
<text x="890.60" y="356.20" text-anchor="end" class="t">32</text>
<text x="890.60" y="318.36" text-anchor="end" class="t">64</text>
<text x="890.60" y="280.52" text-anchor="end" class="t">128</text>
<text x="890.60" y="242.68" text-anchor="end" class="t">256</text>
<text x="890.60" y="204.84" text-anchor="end" class="t">512</text>
<text x="890.60" y="167.00" text-anchor="end" class="t">1024</text>
<text x="890.60" y="129.16" text-anchor="end" class="t">2048</text>
<text x="1056.56" y="572.20" text-anchor="middle" class="t">0</text>
<text x="1379.98" y="572.20" text-anchor="middle" class="t">14</text>
<text x="1218.70" y="613.50" text-anchor="middle" class="tb">Boost regimen days</text>
<text transform="translate(824.80 335.70) rotate(-90)" x="0" y="0" text-anchor="middle" class="tb">IgG2 GMTs</text>
<text x="790.0" y="16.8" class="pl">b</text>
<path d="M1263.30 113.70V92.90H1355.30V113.70" fill="none" stroke="#000" stroke-width="2.2"/>
<text x="1309.00" y="83.30" text-anchor="middle" class="st">**</text>
<path d="M129.63 1150.20V1062.34H173.93V1150.20" fill="#c8ddf5" stroke="#2a8294" stroke-width="2.2"/>
<path d="M199.07 1150.20V1062.34H243.37V1150.20" fill="#c9fec5" stroke="#22a01c" stroke-width="2.2"/>
<path d="M268.51 1150.20V1062.34H312.81V1150.20" fill="#fddfe0" stroke="#d6384a" stroke-width="2.2"/>
<path d="M337.95 1150.20V1059.40H382.25V1150.20" fill="#fddcbd" stroke="#e2843a" stroke-width="2.2"/>
<path d="M453.50 1150.20V1011.40H497.80V1150.20" fill="#c8ddf5" stroke="#2a8294" stroke-width="2.2"/>
<path d="M522.94 1150.20V1051.60H567.24V1150.20" fill="#c9fec5" stroke="#22a01c" stroke-width="2.2"/>
<path d="M592.38 1150.20V1025.90H636.68V1150.20" fill="#fddfe0" stroke="#d6384a" stroke-width="2.2"/>
<path d="M661.82 1150.20V1049.70H706.12V1150.20" fill="#fddcbd" stroke="#e2843a" stroke-width="2.2"/>
<path d="M360.10 1053.50V1064.00M348.80 1053.50H371.40M348.80 1064.00H371.40" fill="none" stroke="#e2843a" stroke-width="2"/>
<path d="M475.65 999.40V1023.00M464.35 999.40H486.95M464.35 1023.00H486.95" fill="none" stroke="#2a8294" stroke-width="2"/>
<path d="M545.09 1044.40V1055.00M533.79 1044.40H556.39M533.79 1055.00H556.39" fill="none" stroke="#22a01c" stroke-width="2"/>
<path d="M614.53 1010.00V1037.90M603.23 1010.00H625.83M603.23 1037.90H625.83" fill="none" stroke="#d6384a" stroke-width="2"/>
<path d="M683.97 1038.80V1060.00M672.67 1038.80H695.27M672.67 1060.00H695.27" fill="none" stroke="#e2843a" stroke-width="2"/>
<circle cx="133.58" cy="1062.34" r="4.4" fill="#137d99"/>
<circle cx="136.61" cy="1062.34" r="4.4" fill="#137d99"/>
<circle cx="139.65" cy="1062.34" r="4.4" fill="#137d99"/>
<circle cx="142.68" cy="1062.34" r="4.4" fill="#137d99"/>
<circle cx="145.71" cy="1062.34" r="4.4" fill="#137d99"/>
<circle cx="148.75" cy="1062.34" r="4.4" fill="#137d99"/>
<circle cx="151.78" cy="1062.34" r="4.4" fill="#137d99"/>
<circle cx="154.81" cy="1062.34" r="4.4" fill="#137d99"/>
<circle cx="157.85" cy="1062.34" r="4.4" fill="#137d99"/>
<circle cx="160.88" cy="1062.34" r="4.4" fill="#137d99"/>
<circle cx="163.91" cy="1062.34" r="4.4" fill="#137d99"/>
<circle cx="166.95" cy="1062.34" r="4.4" fill="#137d99"/>
<circle cx="169.98" cy="1062.34" r="4.4" fill="#137d99"/>
<rect x="216.82" y="982.26" width="8.80" height="8.80" fill="#087a10"/>
<rect x="216.82" y="1020.10" width="8.80" height="8.80" fill="#087a10"/>
<rect x="198.62" y="1057.94" width="8.80" height="8.80" fill="#087a10"/>
<rect x="201.65" y="1057.94" width="8.80" height="8.80" fill="#087a10"/>
<rect x="204.69" y="1057.94" width="8.80" height="8.80" fill="#087a10"/>
<rect x="207.72" y="1057.94" width="8.80" height="8.80" fill="#087a10"/>
<rect x="210.75" y="1057.94" width="8.80" height="8.80" fill="#087a10"/>
<rect x="213.79" y="1057.94" width="8.80" height="8.80" fill="#087a10"/>
<rect x="216.82" y="1057.94" width="8.80" height="8.80" fill="#087a10"/>
<rect x="219.85" y="1057.94" width="8.80" height="8.80" fill="#087a10"/>
<rect x="222.89" y="1057.94" width="8.80" height="8.80" fill="#087a10"/>
<rect x="225.92" y="1057.94" width="8.80" height="8.80" fill="#087a10"/>
<rect x="228.95" y="1057.94" width="8.80" height="8.80" fill="#087a10"/>
<rect x="231.99" y="1057.94" width="8.80" height="8.80" fill="#087a10"/>
<rect x="235.02" y="1057.94" width="8.80" height="8.80" fill="#087a10"/>
<path d="M290.66 1020.30L295.46 1028.70L285.86 1028.70Z" fill="#ee1216"/>
<path d="M272.86 1058.14L277.66 1066.54L268.06 1066.54Z" fill="#ee1216"/>
<path d="M274.64 1058.14L279.44 1066.54L269.84 1066.54Z" fill="#ee1216"/>
<path d="M276.42 1058.14L281.22 1066.54L271.62 1066.54Z" fill="#ee1216"/>
<path d="M278.20 1058.14L283.00 1066.54L273.40 1066.54Z" fill="#ee1216"/>
<path d="M279.98 1058.14L284.78 1066.54L275.18 1066.54Z" fill="#ee1216"/>
<path d="M281.76 1058.14L286.56 1066.54L276.96 1066.54Z" fill="#ee1216"/>
<path d="M283.54 1058.14L288.34 1066.54L278.74 1066.54Z" fill="#ee1216"/>
<path d="M285.32 1058.14L290.12 1066.54L280.52 1066.54Z" fill="#ee1216"/>
<path d="M287.10 1058.14L291.90 1066.54L282.30 1066.54Z" fill="#ee1216"/>
<path d="M288.88 1058.14L293.68 1066.54L284.08 1066.54Z" fill="#ee1216"/>
<path d="M290.66 1058.14L295.46 1066.54L285.86 1066.54Z" fill="#ee1216"/>
<path d="M292.44 1058.14L297.24 1066.54L287.64 1066.54Z" fill="#ee1216"/>
<path d="M294.22 1058.14L299.02 1066.54L289.42 1066.54Z" fill="#ee1216"/>
<path d="M296.00 1058.14L300.80 1066.54L291.20 1066.54Z" fill="#ee1216"/>
<path d="M297.78 1058.14L302.58 1066.54L292.98 1066.54Z" fill="#ee1216"/>
<path d="M299.56 1058.14L304.36 1066.54L294.76 1066.54Z" fill="#ee1216"/>
<path d="M301.34 1058.14L306.14 1066.54L296.54 1066.54Z" fill="#ee1216"/>
<path d="M303.12 1058.14L307.92 1066.54L298.32 1066.54Z" fill="#ee1216"/>
<path d="M304.90 1058.14L309.70 1066.54L300.10 1066.54Z" fill="#ee1216"/>
<path d="M306.68 1058.14L311.48 1066.54L301.88 1066.54Z" fill="#ee1216"/>
<path d="M308.46 1058.14L313.26 1066.54L303.66 1066.54Z" fill="#ee1216"/>
<path d="M355.30 906.78L364.90 906.78L360.10 915.18Z" fill="#f3680f"/>
<path d="M337.50 1058.14L347.10 1058.14L342.30 1066.54Z" fill="#f3680f"/>
<path d="M339.28 1058.14L348.88 1058.14L344.08 1066.54Z" fill="#f3680f"/>
<path d="M341.06 1058.14L350.66 1058.14L345.86 1066.54Z" fill="#f3680f"/>
<path d="M342.84 1058.14L352.44 1058.14L347.64 1066.54Z" fill="#f3680f"/>
<path d="M344.62 1058.14L354.22 1058.14L349.42 1066.54Z" fill="#f3680f"/>
<path d="M346.40 1058.14L356.00 1058.14L351.20 1066.54Z" fill="#f3680f"/>
<path d="M348.18 1058.14L357.78 1058.14L352.98 1066.54Z" fill="#f3680f"/>
<path d="M349.96 1058.14L359.56 1058.14L354.76 1066.54Z" fill="#f3680f"/>
<path d="M351.74 1058.14L361.34 1058.14L356.54 1066.54Z" fill="#f3680f"/>
<path d="M353.52 1058.14L363.12 1058.14L358.32 1066.54Z" fill="#f3680f"/>
<path d="M355.30 1058.14L364.90 1058.14L360.10 1066.54Z" fill="#f3680f"/>
<path d="M357.08 1058.14L366.68 1058.14L361.88 1066.54Z" fill="#f3680f"/>
<path d="M358.86 1058.14L368.46 1058.14L363.66 1066.54Z" fill="#f3680f"/>
<path d="M360.64 1058.14L370.24 1058.14L365.44 1066.54Z" fill="#f3680f"/>
<path d="M362.42 1058.14L372.02 1058.14L367.22 1066.54Z" fill="#f3680f"/>
<path d="M364.20 1058.14L373.80 1058.14L369.00 1066.54Z" fill="#f3680f"/>
<path d="M365.98 1058.14L375.58 1058.14L370.78 1066.54Z" fill="#f3680f"/>
<path d="M367.76 1058.14L377.36 1058.14L372.56 1066.54Z" fill="#f3680f"/>
<path d="M369.54 1058.14L379.14 1058.14L374.34 1066.54Z" fill="#f3680f"/>
<path d="M371.32 1058.14L380.92 1058.14L376.12 1066.54Z" fill="#f3680f"/>
<path d="M373.10 1058.14L382.70 1058.14L377.90 1066.54Z" fill="#f3680f"/>
<circle cx="475.65" cy="873.14" r="4.4" fill="#137d99"/>
<circle cx="472.15" cy="910.98" r="4.4" fill="#137d99"/>
<circle cx="475.65" cy="910.98" r="4.4" fill="#137d99"/>
<circle cx="479.15" cy="910.98" r="4.4" fill="#137d99"/>
<circle cx="472.40" cy="948.82" r="4.4" fill="#137d99"/>
<circle cx="475.65" cy="948.82" r="4.4" fill="#137d99"/>
<circle cx="478.90" cy="948.82" r="4.4" fill="#137d99"/>
<circle cx="463.55" cy="986.66" r="4.4" fill="#137d99"/>
<circle cx="466.57" cy="986.66" r="4.4" fill="#137d99"/>
<circle cx="469.60" cy="986.66" r="4.4" fill="#137d99"/>
<circle cx="472.62" cy="986.66" r="4.4" fill="#137d99"/>
<circle cx="475.65" cy="986.66" r="4.4" fill="#137d99"/>
<circle cx="478.67" cy="986.66" r="4.4" fill="#137d99"/>
<circle cx="481.70" cy="986.66" r="4.4" fill="#137d99"/>
<circle cx="484.72" cy="986.66" r="4.4" fill="#137d99"/>
<circle cx="487.75" cy="986.66" r="4.4" fill="#137d99"/>
<circle cx="467.35" cy="1024.50" r="4.4" fill="#137d99"/>
<circle cx="470.12" cy="1024.50" r="4.4" fill="#137d99"/>
<circle cx="472.88" cy="1024.50" r="4.4" fill="#137d99"/>
<circle cx="475.65" cy="1024.50" r="4.4" fill="#137d99"/>
<circle cx="478.42" cy="1024.50" r="4.4" fill="#137d99"/>
<circle cx="481.18" cy="1024.50" r="4.4" fill="#137d99"/>
<circle cx="483.95" cy="1024.50" r="4.4" fill="#137d99"/>
<circle cx="457.45" cy="1062.34" r="4.4" fill="#137d99"/>
<circle cx="460.48" cy="1062.34" r="4.4" fill="#137d99"/>
<circle cx="463.52" cy="1062.34" r="4.4" fill="#137d99"/>
<circle cx="466.55" cy="1062.34" r="4.4" fill="#137d99"/>
<circle cx="469.58" cy="1062.34" r="4.4" fill="#137d99"/>
<circle cx="472.62" cy="1062.34" r="4.4" fill="#137d99"/>
<circle cx="475.65" cy="1062.34" r="4.4" fill="#137d99"/>
<circle cx="478.68" cy="1062.34" r="4.4" fill="#137d99"/>
<circle cx="481.72" cy="1062.34" r="4.4" fill="#137d99"/>
<circle cx="484.75" cy="1062.34" r="4.4" fill="#137d99"/>
<circle cx="487.78" cy="1062.34" r="4.4" fill="#137d99"/>
<circle cx="490.82" cy="1062.34" r="4.4" fill="#137d99"/>
<circle cx="493.85" cy="1062.34" r="4.4" fill="#137d99"/>
<rect x="540.69" y="944.42" width="8.80" height="8.80" fill="#087a10"/>
<rect x="539.09" y="982.26" width="8.80" height="8.80" fill="#087a10"/>
<rect x="542.29" y="982.26" width="8.80" height="8.80" fill="#087a10"/>
<rect x="538.59" y="1020.10" width="8.80" height="8.80" fill="#087a10"/>
<rect x="542.79" y="1020.10" width="8.80" height="8.80" fill="#087a10"/>
<rect x="522.49" y="1057.94" width="8.80" height="8.80" fill="#087a10"/>
<rect x="525.52" y="1057.94" width="8.80" height="8.80" fill="#087a10"/>
<rect x="528.56" y="1057.94" width="8.80" height="8.80" fill="#087a10"/>
<rect x="531.59" y="1057.94" width="8.80" height="8.80" fill="#087a10"/>
<rect x="534.62" y="1057.94" width="8.80" height="8.80" fill="#087a10"/>
<rect x="537.66" y="1057.94" width="8.80" height="8.80" fill="#087a10"/>
<rect x="540.69" y="1057.94" width="8.80" height="8.80" fill="#087a10"/>
<rect x="543.72" y="1057.94" width="8.80" height="8.80" fill="#087a10"/>
<rect x="546.76" y="1057.94" width="8.80" height="8.80" fill="#087a10"/>
<rect x="549.79" y="1057.94" width="8.80" height="8.80" fill="#087a10"/>
<rect x="552.82" y="1057.94" width="8.80" height="8.80" fill="#087a10"/>
<rect x="555.86" y="1057.94" width="8.80" height="8.80" fill="#087a10"/>
<rect x="558.89" y="1057.94" width="8.80" height="8.80" fill="#087a10"/>
<path d="M612.03 906.78L616.83 915.18L607.23 915.18Z" fill="#ee1216"/>
<path d="M617.03 906.78L621.83 915.18L612.23 915.18Z" fill="#ee1216"/>
<path d="M614.53 944.62L619.33 953.02L609.73 953.02Z" fill="#ee1216"/>
<path d="M610.48 982.46L615.28 990.86L605.68 990.86Z" fill="#ee1216"/>
<path d="M614.53 982.46L619.33 990.86L609.73 990.86Z" fill="#ee1216"/>
<path d="M618.58 982.46L623.38 990.86L613.78 990.86Z" fill="#ee1216"/>
<path d="M609.08 1020.30L613.88 1028.70L604.28 1028.70Z" fill="#ee1216"/>
<path d="M614.53 1020.30L619.33 1028.70L609.73 1028.70Z" fill="#ee1216"/>
<path d="M619.98 1020.30L624.78 1028.70L615.18 1028.70Z" fill="#ee1216"/>
<path d="M596.73 1058.14L601.53 1066.54L591.93 1066.54Z" fill="#ee1216"/>
<path d="M598.51 1058.14L603.31 1066.54L593.71 1066.54Z" fill="#ee1216"/>
<path d="M600.29 1058.14L605.09 1066.54L595.49 1066.54Z" fill="#ee1216"/>
<path d="M602.07 1058.14L606.87 1066.54L597.27 1066.54Z" fill="#ee1216"/>
<path d="M603.85 1058.14L608.65 1066.54L599.05 1066.54Z" fill="#ee1216"/>
<path d="M605.63 1058.14L610.43 1066.54L600.83 1066.54Z" fill="#ee1216"/>
<path d="M607.41 1058.14L612.21 1066.54L602.61 1066.54Z" fill="#ee1216"/>
<path d="M609.19 1058.14L613.99 1066.54L604.39 1066.54Z" fill="#ee1216"/>
<path d="M610.97 1058.14L615.77 1066.54L606.17 1066.54Z" fill="#ee1216"/>
<path d="M612.75 1058.14L617.55 1066.54L607.95 1066.54Z" fill="#ee1216"/>
<path d="M614.53 1058.14L619.33 1066.54L609.73 1066.54Z" fill="#ee1216"/>
<path d="M616.31 1058.14L621.11 1066.54L611.51 1066.54Z" fill="#ee1216"/>
<path d="M618.09 1058.14L622.89 1066.54L613.29 1066.54Z" fill="#ee1216"/>
<path d="M619.87 1058.14L624.67 1066.54L615.07 1066.54Z" fill="#ee1216"/>
<path d="M621.65 1058.14L626.45 1066.54L616.85 1066.54Z" fill="#ee1216"/>
<path d="M623.43 1058.14L628.23 1066.54L618.63 1066.54Z" fill="#ee1216"/>
<path d="M625.21 1058.14L630.01 1066.54L620.41 1066.54Z" fill="#ee1216"/>
<path d="M626.99 1058.14L631.79 1066.54L622.19 1066.54Z" fill="#ee1216"/>
<path d="M628.77 1058.14L633.57 1066.54L623.97 1066.54Z" fill="#ee1216"/>
<path d="M630.55 1058.14L635.35 1066.54L625.75 1066.54Z" fill="#ee1216"/>
<path d="M632.33 1058.14L637.13 1066.54L627.53 1066.54Z" fill="#ee1216"/>
<path d="M679.17 944.62L688.77 944.62L683.97 953.02Z" fill="#f3680f"/>
<path d="M679.17 982.46L688.77 982.46L683.97 990.86Z" fill="#f3680f"/>
<path d="M679.17 1020.30L688.77 1020.30L683.97 1028.70Z" fill="#f3680f"/>
<path d="M661.37 1058.14L670.97 1058.14L666.17 1066.54Z" fill="#f3680f"/>
<path d="M663.15 1058.14L672.75 1058.14L667.95 1066.54Z" fill="#f3680f"/>
<path d="M664.93 1058.14L674.53 1058.14L669.73 1066.54Z" fill="#f3680f"/>
<path d="M666.71 1058.14L676.31 1058.14L671.51 1066.54Z" fill="#f3680f"/>
<path d="M668.49 1058.14L678.09 1058.14L673.29 1066.54Z" fill="#f3680f"/>
<path d="M670.27 1058.14L679.87 1058.14L675.07 1066.54Z" fill="#f3680f"/>
<path d="M672.05 1058.14L681.65 1058.14L676.85 1066.54Z" fill="#f3680f"/>
<path d="M673.83 1058.14L683.43 1058.14L678.63 1066.54Z" fill="#f3680f"/>
<path d="M675.61 1058.14L685.21 1058.14L680.41 1066.54Z" fill="#f3680f"/>
<path d="M677.39 1058.14L686.99 1058.14L682.19 1066.54Z" fill="#f3680f"/>
<path d="M679.17 1058.14L688.77 1058.14L683.97 1066.54Z" fill="#f3680f"/>
<path d="M680.95 1058.14L690.55 1058.14L685.75 1066.54Z" fill="#f3680f"/>
<path d="M682.73 1058.14L692.33 1058.14L687.53 1066.54Z" fill="#f3680f"/>
<path d="M684.51 1058.14L694.11 1058.14L689.31 1066.54Z" fill="#f3680f"/>
<path d="M686.29 1058.14L695.89 1058.14L691.09 1066.54Z" fill="#f3680f"/>
<path d="M688.07 1058.14L697.67 1058.14L692.87 1066.54Z" fill="#f3680f"/>
<path d="M689.85 1058.14L699.45 1058.14L694.65 1066.54Z" fill="#f3680f"/>
<path d="M691.63 1058.14L701.23 1058.14L696.43 1066.54Z" fill="#f3680f"/>
<path d="M693.41 1058.14L703.01 1058.14L698.21 1066.54Z" fill="#f3680f"/>
<path d="M695.19 1058.14L704.79 1058.14L699.99 1066.54Z" fill="#f3680f"/>
<path d="M696.97 1058.14L706.57 1058.14L701.77 1066.54Z" fill="#f3680f"/>
<path d="M105.70 732.76V1150.20H730.70M94.20 1150.20H105.70M94.20 1112.36H105.70M94.20 1074.52H105.70M94.20 1036.68H105.70M94.20 998.84H105.70M94.20 961.00H105.70M94.20 923.16H105.70M94.20 885.32H105.70M94.20 847.48H105.70M94.20 809.64H105.70M94.20 771.80H105.70M94.20 733.96H105.70M255.46 1150.20V1161.50M578.88 1150.20V1161.50" fill="none" stroke="#000" stroke-width="2.3"/>
<text x="89.50" y="1156.80" text-anchor="end" class="t">1</text>
<text x="89.50" y="1118.96" text-anchor="end" class="t">2</text>
<text x="89.50" y="1081.12" text-anchor="end" class="t">4</text>
<text x="89.50" y="1043.28" text-anchor="end" class="t">8</text>
<text x="89.50" y="1005.44" text-anchor="end" class="t">16</text>
<text x="89.50" y="967.60" text-anchor="end" class="t">32</text>
<text x="89.50" y="929.76" text-anchor="end" class="t">64</text>
<text x="89.50" y="891.92" text-anchor="end" class="t">128</text>
<text x="89.50" y="854.08" text-anchor="end" class="t">256</text>
<text x="89.50" y="816.24" text-anchor="end" class="t">512</text>
<text x="89.50" y="778.40" text-anchor="end" class="t">1024</text>
<text x="89.50" y="740.56" text-anchor="end" class="t">2048</text>
<text x="255.46" y="1183.60" text-anchor="middle" class="t">0</text>
<text x="578.88" y="1183.60" text-anchor="middle" class="t">14</text>
<text x="417.60" y="1225.00" text-anchor="middle" class="tb">Boost regimen days</text>
<text transform="translate(23.80 947.50) rotate(-90)" x="0" y="0" text-anchor="middle" class="tb">IgG3 GMTs</text>
<text x="-0.5" y="651.8" class="pl">c</text>
<path d="M462.60 725.10V705.30H553.30V725.10" fill="none" stroke="#000" stroke-width="2.2"/>
<text x="507.65" y="694.70" text-anchor="middle" class="st">****</text>
<path d="M604.30 725.10V705.30H694.90V725.10" fill="none" stroke="#000" stroke-width="2.2"/>
<text x="649.30" y="694.70" text-anchor="middle" class="st">**</text>
<path d="M931.03 1147.90V1060.04H975.33V1147.90" fill="#c8ddf5" stroke="#2a8294" stroke-width="2.2"/>
<path d="M1000.47 1147.90V1060.04H1044.77V1147.90" fill="#c9fec5" stroke="#22a01c" stroke-width="2.2"/>
<path d="M1069.91 1147.90V1060.04H1114.21V1147.90" fill="#fddfe0" stroke="#d6384a" stroke-width="2.2"/>
<path d="M1139.35 1147.90V1060.04H1183.65V1147.90" fill="#fddcbd" stroke="#e2843a" stroke-width="2.2"/>
<path d="M1254.90 1147.90V1060.04H1299.20V1147.90" fill="#c8ddf5" stroke="#2a8294" stroke-width="2.2"/>
<path d="M1324.34 1147.90V1060.04H1368.64V1147.90" fill="#c9fec5" stroke="#22a01c" stroke-width="2.2"/>
<path d="M1393.78 1147.90V1060.04H1438.08V1147.90" fill="#fddfe0" stroke="#d6384a" stroke-width="2.2"/>
<path d="M1463.22 1147.90V1060.04H1507.52V1147.90" fill="#fddcbd" stroke="#e2843a" stroke-width="2.2"/>
<circle cx="934.98" cy="1060.04" r="4.4" fill="#137d99"/>
<circle cx="938.01" cy="1060.04" r="4.4" fill="#137d99"/>
<circle cx="941.05" cy="1060.04" r="4.4" fill="#137d99"/>
<circle cx="944.08" cy="1060.04" r="4.4" fill="#137d99"/>
<circle cx="947.11" cy="1060.04" r="4.4" fill="#137d99"/>
<circle cx="950.15" cy="1060.04" r="4.4" fill="#137d99"/>
<circle cx="953.18" cy="1060.04" r="4.4" fill="#137d99"/>
<circle cx="956.21" cy="1060.04" r="4.4" fill="#137d99"/>
<circle cx="959.25" cy="1060.04" r="4.4" fill="#137d99"/>
<circle cx="962.28" cy="1060.04" r="4.4" fill="#137d99"/>
<circle cx="965.31" cy="1060.04" r="4.4" fill="#137d99"/>
<circle cx="968.35" cy="1060.04" r="4.4" fill="#137d99"/>
<circle cx="971.38" cy="1060.04" r="4.4" fill="#137d99"/>
<rect x="1000.02" y="1055.64" width="8.80" height="8.80" fill="#087a10"/>
<rect x="1003.05" y="1055.64" width="8.80" height="8.80" fill="#087a10"/>
<rect x="1006.09" y="1055.64" width="8.80" height="8.80" fill="#087a10"/>
<rect x="1009.12" y="1055.64" width="8.80" height="8.80" fill="#087a10"/>
<rect x="1012.15" y="1055.64" width="8.80" height="8.80" fill="#087a10"/>
<rect x="1015.19" y="1055.64" width="8.80" height="8.80" fill="#087a10"/>
<rect x="1018.22" y="1055.64" width="8.80" height="8.80" fill="#087a10"/>
<rect x="1021.25" y="1055.64" width="8.80" height="8.80" fill="#087a10"/>
<rect x="1024.29" y="1055.64" width="8.80" height="8.80" fill="#087a10"/>
<rect x="1027.32" y="1055.64" width="8.80" height="8.80" fill="#087a10"/>
<rect x="1030.35" y="1055.64" width="8.80" height="8.80" fill="#087a10"/>
<rect x="1033.39" y="1055.64" width="8.80" height="8.80" fill="#087a10"/>
<rect x="1036.42" y="1055.64" width="8.80" height="8.80" fill="#087a10"/>
<path d="M1074.26 1055.84L1079.06 1064.24L1069.46 1064.24Z" fill="#ee1216"/>
<path d="M1075.25 1055.84L1080.05 1064.24L1070.45 1064.24Z" fill="#ee1216"/>
<path d="M1076.24 1055.84L1081.04 1064.24L1071.44 1064.24Z" fill="#ee1216"/>
<path d="M1077.23 1055.84L1082.03 1064.24L1072.43 1064.24Z" fill="#ee1216"/>
<path d="M1078.22 1055.84L1083.02 1064.24L1073.42 1064.24Z" fill="#ee1216"/>
<path d="M1079.20 1055.84L1084.00 1064.24L1074.40 1064.24Z" fill="#ee1216"/>
<path d="M1080.19 1055.84L1084.99 1064.24L1075.39 1064.24Z" fill="#ee1216"/>
<path d="M1081.18 1055.84L1085.98 1064.24L1076.38 1064.24Z" fill="#ee1216"/>
<path d="M1082.17 1055.84L1086.97 1064.24L1077.37 1064.24Z" fill="#ee1216"/>
<path d="M1083.16 1055.84L1087.96 1064.24L1078.36 1064.24Z" fill="#ee1216"/>
<path d="M1084.15 1055.84L1088.95 1064.24L1079.35 1064.24Z" fill="#ee1216"/>
<path d="M1085.14 1055.84L1089.94 1064.24L1080.34 1064.24Z" fill="#ee1216"/>
<path d="M1086.13 1055.84L1090.93 1064.24L1081.33 1064.24Z" fill="#ee1216"/>
<path d="M1087.12 1055.84L1091.92 1064.24L1082.32 1064.24Z" fill="#ee1216"/>
<path d="M1088.10 1055.84L1092.90 1064.24L1083.30 1064.24Z" fill="#ee1216"/>
<path d="M1089.09 1055.84L1093.89 1064.24L1084.29 1064.24Z" fill="#ee1216"/>
<path d="M1090.08 1055.84L1094.88 1064.24L1085.28 1064.24Z" fill="#ee1216"/>
<path d="M1091.07 1055.84L1095.87 1064.24L1086.27 1064.24Z" fill="#ee1216"/>
<path d="M1092.06 1055.84L1096.86 1064.24L1087.26 1064.24Z" fill="#ee1216"/>
<path d="M1093.05 1055.84L1097.85 1064.24L1088.25 1064.24Z" fill="#ee1216"/>
<path d="M1094.04 1055.84L1098.84 1064.24L1089.24 1064.24Z" fill="#ee1216"/>
<path d="M1095.03 1055.84L1099.83 1064.24L1090.23 1064.24Z" fill="#ee1216"/>
<path d="M1096.02 1055.84L1100.82 1064.24L1091.22 1064.24Z" fill="#ee1216"/>
<path d="M1097.00 1055.84L1101.80 1064.24L1092.20 1064.24Z" fill="#ee1216"/>
<path d="M1097.99 1055.84L1102.79 1064.24L1093.19 1064.24Z" fill="#ee1216"/>
<path d="M1098.98 1055.84L1103.78 1064.24L1094.18 1064.24Z" fill="#ee1216"/>
<path d="M1099.97 1055.84L1104.77 1064.24L1095.17 1064.24Z" fill="#ee1216"/>
<path d="M1100.96 1055.84L1105.76 1064.24L1096.16 1064.24Z" fill="#ee1216"/>
<path d="M1101.95 1055.84L1106.75 1064.24L1097.15 1064.24Z" fill="#ee1216"/>
<path d="M1102.94 1055.84L1107.74 1064.24L1098.14 1064.24Z" fill="#ee1216"/>
<path d="M1103.93 1055.84L1108.73 1064.24L1099.13 1064.24Z" fill="#ee1216"/>
<path d="M1104.92 1055.84L1109.72 1064.24L1100.12 1064.24Z" fill="#ee1216"/>
<path d="M1105.90 1055.84L1110.70 1064.24L1101.10 1064.24Z" fill="#ee1216"/>
<path d="M1106.89 1055.84L1111.69 1064.24L1102.09 1064.24Z" fill="#ee1216"/>
<path d="M1107.88 1055.84L1112.68 1064.24L1103.08 1064.24Z" fill="#ee1216"/>
<path d="M1108.87 1055.84L1113.67 1064.24L1104.07 1064.24Z" fill="#ee1216"/>
<path d="M1109.86 1055.84L1114.66 1064.24L1105.06 1064.24Z" fill="#ee1216"/>
<path d="M1138.90 1055.84L1148.50 1055.84L1143.70 1064.24Z" fill="#f3680f"/>
<path d="M1139.89 1055.84L1149.49 1055.84L1144.69 1064.24Z" fill="#f3680f"/>
<path d="M1140.88 1055.84L1150.48 1055.84L1145.68 1064.24Z" fill="#f3680f"/>
<path d="M1141.87 1055.84L1151.47 1055.84L1146.67 1064.24Z" fill="#f3680f"/>
<path d="M1142.86 1055.84L1152.46 1055.84L1147.66 1064.24Z" fill="#f3680f"/>
<path d="M1143.84 1055.84L1153.44 1055.84L1148.64 1064.24Z" fill="#f3680f"/>
<path d="M1144.83 1055.84L1154.43 1055.84L1149.63 1064.24Z" fill="#f3680f"/>
<path d="M1145.82 1055.84L1155.42 1055.84L1150.62 1064.24Z" fill="#f3680f"/>
<path d="M1146.81 1055.84L1156.41 1055.84L1151.61 1064.24Z" fill="#f3680f"/>
<path d="M1147.80 1055.84L1157.40 1055.84L1152.60 1064.24Z" fill="#f3680f"/>
<path d="M1148.79 1055.84L1158.39 1055.84L1153.59 1064.24Z" fill="#f3680f"/>
<path d="M1149.78 1055.84L1159.38 1055.84L1154.58 1064.24Z" fill="#f3680f"/>
<path d="M1150.77 1055.84L1160.37 1055.84L1155.57 1064.24Z" fill="#f3680f"/>
<path d="M1151.76 1055.84L1161.36 1055.84L1156.56 1064.24Z" fill="#f3680f"/>
<path d="M1152.74 1055.84L1162.34 1055.84L1157.54 1064.24Z" fill="#f3680f"/>
<path d="M1153.73 1055.84L1163.33 1055.84L1158.53 1064.24Z" fill="#f3680f"/>
<path d="M1154.72 1055.84L1164.32 1055.84L1159.52 1064.24Z" fill="#f3680f"/>
<path d="M1155.71 1055.84L1165.31 1055.84L1160.51 1064.24Z" fill="#f3680f"/>
<path d="M1156.70 1055.84L1166.30 1055.84L1161.50 1064.24Z" fill="#f3680f"/>
<path d="M1157.69 1055.84L1167.29 1055.84L1162.49 1064.24Z" fill="#f3680f"/>
<path d="M1158.68 1055.84L1168.28 1055.84L1163.48 1064.24Z" fill="#f3680f"/>
<path d="M1159.67 1055.84L1169.27 1055.84L1164.47 1064.24Z" fill="#f3680f"/>
<path d="M1160.66 1055.84L1170.26 1055.84L1165.46 1064.24Z" fill="#f3680f"/>
<path d="M1161.64 1055.84L1171.24 1055.84L1166.44 1064.24Z" fill="#f3680f"/>
<path d="M1162.63 1055.84L1172.23 1055.84L1167.43 1064.24Z" fill="#f3680f"/>
<path d="M1163.62 1055.84L1173.22 1055.84L1168.42 1064.24Z" fill="#f3680f"/>
<path d="M1164.61 1055.84L1174.21 1055.84L1169.41 1064.24Z" fill="#f3680f"/>
<path d="M1165.60 1055.84L1175.20 1055.84L1170.40 1064.24Z" fill="#f3680f"/>
<path d="M1166.59 1055.84L1176.19 1055.84L1171.39 1064.24Z" fill="#f3680f"/>
<path d="M1167.58 1055.84L1177.18 1055.84L1172.38 1064.24Z" fill="#f3680f"/>
<path d="M1168.57 1055.84L1178.17 1055.84L1173.37 1064.24Z" fill="#f3680f"/>
<path d="M1169.56 1055.84L1179.16 1055.84L1174.36 1064.24Z" fill="#f3680f"/>
<path d="M1170.54 1055.84L1180.14 1055.84L1175.34 1064.24Z" fill="#f3680f"/>
<path d="M1171.53 1055.84L1181.13 1055.84L1176.33 1064.24Z" fill="#f3680f"/>
<path d="M1172.52 1055.84L1182.12 1055.84L1177.32 1064.24Z" fill="#f3680f"/>
<path d="M1173.51 1055.84L1183.11 1055.84L1178.31 1064.24Z" fill="#f3680f"/>
<path d="M1174.50 1055.84L1184.10 1055.84L1179.30 1064.24Z" fill="#f3680f"/>
<circle cx="1277.05" cy="984.36" r="4.4" fill="#137d99"/>
<circle cx="1258.85" cy="1060.04" r="4.4" fill="#137d99"/>
<circle cx="1261.88" cy="1060.04" r="4.4" fill="#137d99"/>
<circle cx="1264.92" cy="1060.04" r="4.4" fill="#137d99"/>
<circle cx="1267.95" cy="1060.04" r="4.4" fill="#137d99"/>
<circle cx="1270.98" cy="1060.04" r="4.4" fill="#137d99"/>
<circle cx="1274.02" cy="1060.04" r="4.4" fill="#137d99"/>
<circle cx="1277.05" cy="1060.04" r="4.4" fill="#137d99"/>
<circle cx="1280.08" cy="1060.04" r="4.4" fill="#137d99"/>
<circle cx="1283.12" cy="1060.04" r="4.4" fill="#137d99"/>
<circle cx="1286.15" cy="1060.04" r="4.4" fill="#137d99"/>
<circle cx="1289.18" cy="1060.04" r="4.4" fill="#137d99"/>
<circle cx="1292.22" cy="1060.04" r="4.4" fill="#137d99"/>
<circle cx="1295.25" cy="1060.04" r="4.4" fill="#137d99"/>
<rect x="1323.89" y="1055.64" width="8.80" height="8.80" fill="#087a10"/>
<rect x="1326.92" y="1055.64" width="8.80" height="8.80" fill="#087a10"/>
<rect x="1329.96" y="1055.64" width="8.80" height="8.80" fill="#087a10"/>
<rect x="1332.99" y="1055.64" width="8.80" height="8.80" fill="#087a10"/>
<rect x="1336.02" y="1055.64" width="8.80" height="8.80" fill="#087a10"/>
<rect x="1339.06" y="1055.64" width="8.80" height="8.80" fill="#087a10"/>
<rect x="1342.09" y="1055.64" width="8.80" height="8.80" fill="#087a10"/>
<rect x="1345.12" y="1055.64" width="8.80" height="8.80" fill="#087a10"/>
<rect x="1348.16" y="1055.64" width="8.80" height="8.80" fill="#087a10"/>
<rect x="1351.19" y="1055.64" width="8.80" height="8.80" fill="#087a10"/>
<rect x="1354.22" y="1055.64" width="8.80" height="8.80" fill="#087a10"/>
<rect x="1357.26" y="1055.64" width="8.80" height="8.80" fill="#087a10"/>
<rect x="1360.29" y="1055.64" width="8.80" height="8.80" fill="#087a10"/>
<path d="M1398.13 1055.84L1402.93 1064.24L1393.33 1064.24Z" fill="#ee1216"/>
<path d="M1399.12 1055.84L1403.92 1064.24L1394.32 1064.24Z" fill="#ee1216"/>
<path d="M1400.11 1055.84L1404.91 1064.24L1395.31 1064.24Z" fill="#ee1216"/>
<path d="M1401.10 1055.84L1405.90 1064.24L1396.30 1064.24Z" fill="#ee1216"/>
<path d="M1402.09 1055.84L1406.89 1064.24L1397.29 1064.24Z" fill="#ee1216"/>
<path d="M1403.07 1055.84L1407.87 1064.24L1398.27 1064.24Z" fill="#ee1216"/>
<path d="M1404.06 1055.84L1408.86 1064.24L1399.26 1064.24Z" fill="#ee1216"/>
<path d="M1405.05 1055.84L1409.85 1064.24L1400.25 1064.24Z" fill="#ee1216"/>
<path d="M1406.04 1055.84L1410.84 1064.24L1401.24 1064.24Z" fill="#ee1216"/>
<path d="M1407.03 1055.84L1411.83 1064.24L1402.23 1064.24Z" fill="#ee1216"/>
<path d="M1408.02 1055.84L1412.82 1064.24L1403.22 1064.24Z" fill="#ee1216"/>
<path d="M1409.01 1055.84L1413.81 1064.24L1404.21 1064.24Z" fill="#ee1216"/>
<path d="M1410.00 1055.84L1414.80 1064.24L1405.20 1064.24Z" fill="#ee1216"/>
<path d="M1410.99 1055.84L1415.79 1064.24L1406.19 1064.24Z" fill="#ee1216"/>
<path d="M1411.97 1055.84L1416.77 1064.24L1407.17 1064.24Z" fill="#ee1216"/>
<path d="M1412.96 1055.84L1417.76 1064.24L1408.16 1064.24Z" fill="#ee1216"/>
<path d="M1413.95 1055.84L1418.75 1064.24L1409.15 1064.24Z" fill="#ee1216"/>
<path d="M1414.94 1055.84L1419.74 1064.24L1410.14 1064.24Z" fill="#ee1216"/>
<path d="M1415.93 1055.84L1420.73 1064.24L1411.13 1064.24Z" fill="#ee1216"/>
<path d="M1416.92 1055.84L1421.72 1064.24L1412.12 1064.24Z" fill="#ee1216"/>
<path d="M1417.91 1055.84L1422.71 1064.24L1413.11 1064.24Z" fill="#ee1216"/>
<path d="M1418.90 1055.84L1423.70 1064.24L1414.10 1064.24Z" fill="#ee1216"/>
<path d="M1419.89 1055.84L1424.69 1064.24L1415.09 1064.24Z" fill="#ee1216"/>
<path d="M1420.87 1055.84L1425.67 1064.24L1416.07 1064.24Z" fill="#ee1216"/>
<path d="M1421.86 1055.84L1426.66 1064.24L1417.06 1064.24Z" fill="#ee1216"/>
<path d="M1422.85 1055.84L1427.65 1064.24L1418.05 1064.24Z" fill="#ee1216"/>
<path d="M1423.84 1055.84L1428.64 1064.24L1419.04 1064.24Z" fill="#ee1216"/>
<path d="M1424.83 1055.84L1429.63 1064.24L1420.03 1064.24Z" fill="#ee1216"/>
<path d="M1425.82 1055.84L1430.62 1064.24L1421.02 1064.24Z" fill="#ee1216"/>
<path d="M1426.81 1055.84L1431.61 1064.24L1422.01 1064.24Z" fill="#ee1216"/>
<path d="M1427.80 1055.84L1432.60 1064.24L1423.00 1064.24Z" fill="#ee1216"/>
<path d="M1428.79 1055.84L1433.59 1064.24L1423.99 1064.24Z" fill="#ee1216"/>
<path d="M1429.77 1055.84L1434.57 1064.24L1424.97 1064.24Z" fill="#ee1216"/>
<path d="M1430.76 1055.84L1435.56 1064.24L1425.96 1064.24Z" fill="#ee1216"/>
<path d="M1431.75 1055.84L1436.55 1064.24L1426.95 1064.24Z" fill="#ee1216"/>
<path d="M1432.74 1055.84L1437.54 1064.24L1427.94 1064.24Z" fill="#ee1216"/>
<path d="M1433.73 1055.84L1438.53 1064.24L1428.93 1064.24Z" fill="#ee1216"/>
<path d="M1462.77 1055.84L1472.37 1055.84L1467.57 1064.24Z" fill="#f3680f"/>
<path d="M1463.76 1055.84L1473.36 1055.84L1468.56 1064.24Z" fill="#f3680f"/>
<path d="M1464.75 1055.84L1474.35 1055.84L1469.55 1064.24Z" fill="#f3680f"/>
<path d="M1465.74 1055.84L1475.34 1055.84L1470.54 1064.24Z" fill="#f3680f"/>
<path d="M1466.73 1055.84L1476.33 1055.84L1471.53 1064.24Z" fill="#f3680f"/>
<path d="M1467.71 1055.84L1477.31 1055.84L1472.51 1064.24Z" fill="#f3680f"/>
<path d="M1468.70 1055.84L1478.30 1055.84L1473.50 1064.24Z" fill="#f3680f"/>
<path d="M1469.69 1055.84L1479.29 1055.84L1474.49 1064.24Z" fill="#f3680f"/>
<path d="M1470.68 1055.84L1480.28 1055.84L1475.48 1064.24Z" fill="#f3680f"/>
<path d="M1471.67 1055.84L1481.27 1055.84L1476.47 1064.24Z" fill="#f3680f"/>
<path d="M1472.66 1055.84L1482.26 1055.84L1477.46 1064.24Z" fill="#f3680f"/>
<path d="M1473.65 1055.84L1483.25 1055.84L1478.45 1064.24Z" fill="#f3680f"/>
<path d="M1474.64 1055.84L1484.24 1055.84L1479.44 1064.24Z" fill="#f3680f"/>
<path d="M1475.63 1055.84L1485.23 1055.84L1480.43 1064.24Z" fill="#f3680f"/>
<path d="M1476.61 1055.84L1486.21 1055.84L1481.41 1064.24Z" fill="#f3680f"/>
<path d="M1477.60 1055.84L1487.20 1055.84L1482.40 1064.24Z" fill="#f3680f"/>
<path d="M1478.59 1055.84L1488.19 1055.84L1483.39 1064.24Z" fill="#f3680f"/>
<path d="M1479.58 1055.84L1489.18 1055.84L1484.38 1064.24Z" fill="#f3680f"/>
<path d="M1480.57 1055.84L1490.17 1055.84L1485.37 1064.24Z" fill="#f3680f"/>
<path d="M1481.56 1055.84L1491.16 1055.84L1486.36 1064.24Z" fill="#f3680f"/>
<path d="M1482.55 1055.84L1492.15 1055.84L1487.35 1064.24Z" fill="#f3680f"/>
<path d="M1483.54 1055.84L1493.14 1055.84L1488.34 1064.24Z" fill="#f3680f"/>
<path d="M1484.53 1055.84L1494.13 1055.84L1489.33 1064.24Z" fill="#f3680f"/>
<path d="M1485.51 1055.84L1495.11 1055.84L1490.31 1064.24Z" fill="#f3680f"/>
<path d="M1486.50 1055.84L1496.10 1055.84L1491.30 1064.24Z" fill="#f3680f"/>
<path d="M1487.49 1055.84L1497.09 1055.84L1492.29 1064.24Z" fill="#f3680f"/>
<path d="M1488.48 1055.84L1498.08 1055.84L1493.28 1064.24Z" fill="#f3680f"/>
<path d="M1489.47 1055.84L1499.07 1055.84L1494.27 1064.24Z" fill="#f3680f"/>
<path d="M1490.46 1055.84L1500.06 1055.84L1495.26 1064.24Z" fill="#f3680f"/>
<path d="M1491.45 1055.84L1501.05 1055.84L1496.25 1064.24Z" fill="#f3680f"/>
<path d="M1492.44 1055.84L1502.04 1055.84L1497.24 1064.24Z" fill="#f3680f"/>
<path d="M1493.43 1055.84L1503.03 1055.84L1498.23 1064.24Z" fill="#f3680f"/>
<path d="M1494.41 1055.84L1504.01 1055.84L1499.21 1064.24Z" fill="#f3680f"/>
<path d="M1495.40 1055.84L1505.00 1055.84L1500.20 1064.24Z" fill="#f3680f"/>
<path d="M1496.39 1055.84L1505.99 1055.84L1501.19 1064.24Z" fill="#f3680f"/>
<path d="M1497.38 1055.84L1506.98 1055.84L1502.18 1064.24Z" fill="#f3680f"/>
<path d="M1498.37 1055.84L1507.97 1055.84L1503.17 1064.24Z" fill="#f3680f"/>
<path d="M906.90 730.46V1147.90H1531.90M895.40 1147.90H906.90M895.40 1110.06H906.90M895.40 1072.22H906.90M895.40 1034.38H906.90M895.40 996.54H906.90M895.40 958.70H906.90M895.40 920.86H906.90M895.40 883.02H906.90M895.40 845.18H906.90M895.40 807.34H906.90M895.40 769.50H906.90M895.40 731.66H906.90M1056.66 1147.90V1159.20M1380.08 1147.90V1159.20" fill="none" stroke="#000" stroke-width="2.3"/>
<text x="890.70" y="1154.50" text-anchor="end" class="t">1</text>
<text x="890.70" y="1116.66" text-anchor="end" class="t">2</text>
<text x="890.70" y="1078.82" text-anchor="end" class="t">4</text>
<text x="890.70" y="1040.98" text-anchor="end" class="t">8</text>
<text x="890.70" y="1003.14" text-anchor="end" class="t">16</text>
<text x="890.70" y="965.30" text-anchor="end" class="t">32</text>
<text x="890.70" y="927.46" text-anchor="end" class="t">64</text>
<text x="890.70" y="889.62" text-anchor="end" class="t">128</text>
<text x="890.70" y="851.78" text-anchor="end" class="t">256</text>
<text x="890.70" y="813.94" text-anchor="end" class="t">512</text>
<text x="890.70" y="776.10" text-anchor="end" class="t">1024</text>
<text x="890.70" y="738.26" text-anchor="end" class="t">2048</text>
<text x="1056.66" y="1181.30" text-anchor="middle" class="t">0</text>
<text x="1380.08" y="1181.30" text-anchor="middle" class="t">14</text>
<text x="1218.80" y="1230.90" text-anchor="middle" class="tb">Boost regimen days</text>
<text transform="translate(824.80 945.30) rotate(-90)" x="0" y="0" text-anchor="middle" class="tb">IgG4 GMTs</text>
<text x="791.0" y="651.8" class="pl">d</text>
<circle cx="1648.70" cy="142.60" r="4.4" fill="#137d99"/>
<text x="1696.3" y="149.50" class="t">Group A</text>
<rect x="1644.30" y="193.90" width="8.80" height="8.80" fill="#087a10"/>
<text x="1696.3" y="205.20" class="t">Group B</text>
<path d="M1648.70 249.80L1653.50 258.20L1643.90 258.20Z" fill="#ee1216"/>
<text x="1696.3" y="260.90" class="t">Group C</text>
<path d="M1643.90 305.40L1653.50 305.40L1648.70 313.80Z" fill="#f3680f"/>
<text x="1696.3" y="316.50" class="t">Group D</text>
<circle cx="1648.70" cy="752.20" r="4.4" fill="#137d99"/>
<text x="1696.3" y="759.10" class="t">Group A</text>
<rect x="1644.30" y="803.50" width="8.80" height="8.80" fill="#087a10"/>
<text x="1696.3" y="814.80" class="t">Group B</text>
<path d="M1648.70 859.40L1653.50 867.80L1643.90 867.80Z" fill="#ee1216"/>
<text x="1696.3" y="870.50" class="t">Group C</text>
<path d="M1643.90 915.00L1653.50 915.00L1648.70 923.40Z" fill="#f3680f"/>
<text x="1696.3" y="926.10" class="t">Group D</text>
</svg>
</body></html>
